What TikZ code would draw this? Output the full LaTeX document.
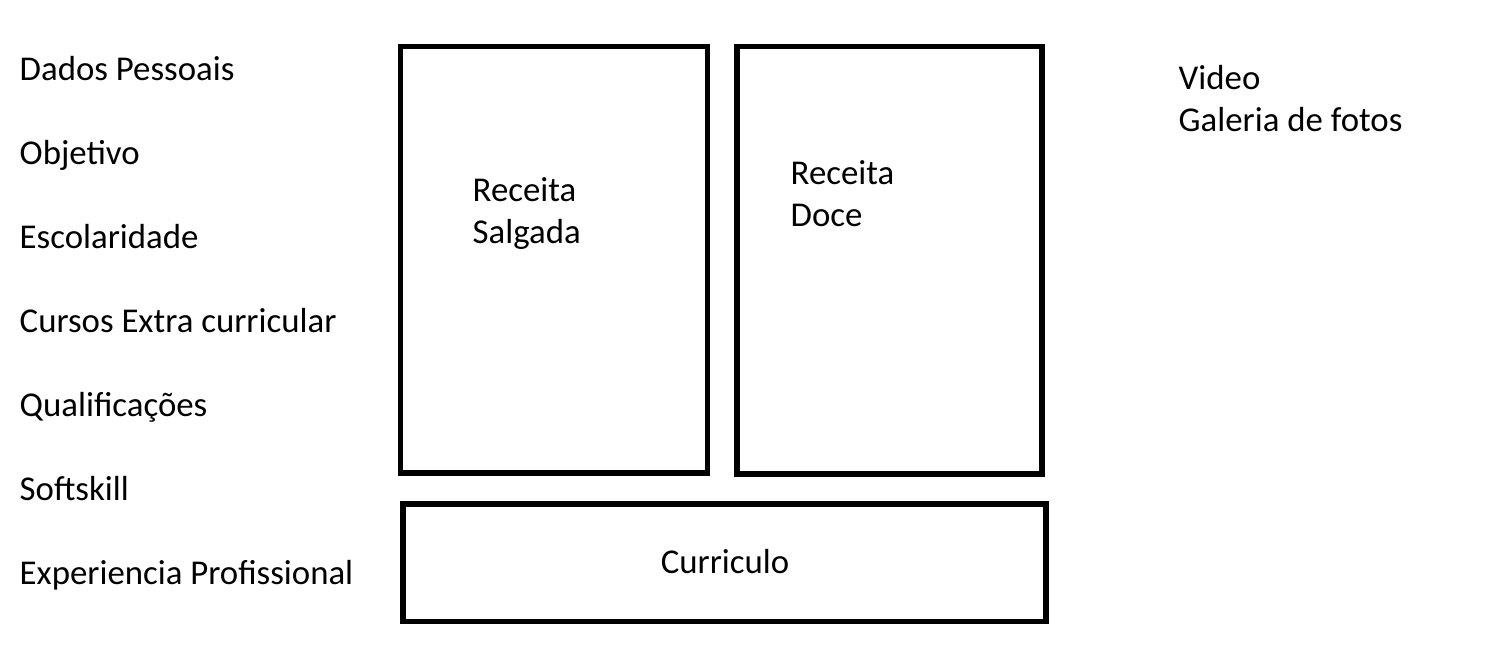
\documentclass[tikz,border=0pt]{standalone}
\usepackage{fontspec}
\setmainfont{Carlito}
\begin{document}
\begin{tikzpicture}[x=0.01cm,y=-0.01cm,
  lbl/.style={anchor=base west,inner sep=0pt,font=\fontsize{9.9pt}{11.95pt}\selectfont,align=left},
  panel/.style={draw=black,line width=1.6pt}]
\useasboundingbox (0,0) rectangle (1510,647);
% left list
\node[lbl] (dp) at (19,80) {Dados Pessoais};
\node[lbl] (ob) at (19,164) {Objetivo};
\node[lbl] (es) at (19,248) {Escolaridade};
\node[lbl] (ce) at (19,332) {Cursos Extra curricular};
\node[lbl] (qu) at (19,416) {Qualificações};
\node[lbl] (so) at (19,500) {Softskill};
\node[lbl] (ep) at (19,584) {Experiencia Profissional};
% boxes
\draw[panel] (400.5,46.5) rectangle (707.5,473);
\draw[panel] (737,46.5) rectangle (1042,474);
\draw[panel] (403,504) rectangle (1046,621.5);
\node[lbl] (rs1) at (472,201.5) {Receita};
\node[lbl] (rs2) at (472,243.5) {Salgada};
\node[lbl] (rd1) at (790,184) {Receita};
\node[lbl] (rd2) at (790,226) {Doce};
\node[lbl,anchor=base] (cu) at (725,573) {Curriculo};
% right
\node[lbl] (vi) at (1178,89.5) {Video};
\node[lbl] (gf) at (1178,131.5) {Galeria de fotos};
\end{tikzpicture}
\end{document}
